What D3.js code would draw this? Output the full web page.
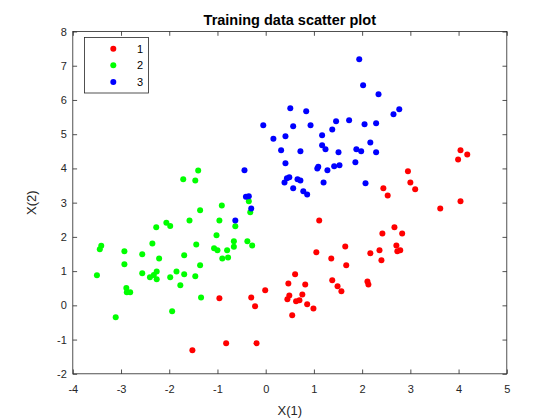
<!DOCTYPE html>
<html>
<head>
<meta charset="utf-8">
<script src="https://cdn.jsdelivr.net/npm/d3@7"></script>
<style>
  body { margin: 0; background: #fff; }
  svg { font-family: "Liberation Sans", Arial, sans-serif; }
</style>
</head>
<body>
<svg id="chart" width="560" height="420"></svg>
<script>
// class 1 (red)
const x1 = [-0.96,-1.52,-0.82,-0.19,-0.30,-0.22,-0.01,1.11,1.05,0.61,0.47,0.82,0.49,0.45,0.76,0.63,0.70,0.86,0.99,0.55,
  1.36,1.65,1.67,1.38,1.49,1.57,2.11,2.13,2.17,2.36,2.40,2.42,2.67,2.83,2.71,2.73,2.79,3.62,4.04,2.95,3.00,3.10,2.44,2.53,4.04,4.18,3.99];
const y1 = [0.21,-1.31,-1.11,-1.11,0.23,-0.03,0.44,2.48,1.55,0.91,0.64,0.61,0.29,0.18,0.32,0.12,0.15,0.03,-0.09,-0.29,
  1.37,1.72,1.17,0.73,0.56,0.41,0.70,0.61,1.52,1.61,1.32,2.10,2.28,2.10,1.75,1.58,1.61,2.83,3.04,3.92,3.59,3.39,3.42,3.21,4.53,4.41,4.26];
// class 2 (green)
const x2 = [-3.50,-3.44,-3.41,-3.11,-2.93,-2.93,-2.89,-2.88,-2.81,-2.56,-2.56,-2.35,-2.40,-2.32,-2.26,-2.26,-2.27,-2.21,-2.06,-1.98,
  -1.98,-1.94,-1.85,-1.77,-1.71,-1.69,-1.69,-1.58,-1.46,-1.40,-1.44,-1.46,-1.36,-1.36,-1.34,-1.07,-1.02,-1.00,-0.96,-0.91,
  -0.90,-0.80,-0.78,-0.66,-0.66,-0.63,-0.38,-0.28,-0.35,-0.32];
const y2 = [0.88,1.64,1.74,-0.35,1.58,1.20,0.51,0.38,0.38,1.49,0.94,1.81,0.82,0.89,0.99,0.76,2.28,1.37,2.41,2.32,
  0.82,-0.17,0.99,0.59,3.68,1.46,0.91,2.48,3.65,3.94,1.78,0.85,1.17,2.78,0.23,1.67,2.05,1.61,2.48,2.92,
  1.37,1.61,1.40,1.87,1.71,2.31,1.87,1.75,3.04,2.72];
// class 3 (blue)
const x3 = [1.94,2.02,2.34,0.51,0.84,-0.05,0.57,0.93,0.16,0.41,0.32,0.72,0.41,-0.44,1.17,1.38,1.46,1.73,2.05,2.29,
  2.65,2.77,2.17,1.17,1.24,1.51,1.88,1.98,2.29,1.86,1.42,1.53,1.07,1.09,1.28,1.20,2.07,0.39,0.44,0.49,
  0.66,0.72,0.57,0.78,0.86,-0.41,-0.35,-0.30,-0.63];
const y3 = [7.19,6.43,6.17,5.76,5.67,5.26,5.23,5.26,4.87,4.94,4.53,4.50,4.15,3.95,4.97,5.14,5.38,5.41,5.29,5.32,
  5.58,5.73,4.76,4.68,4.56,4.47,4.56,4.50,4.47,4.18,4.06,4.09,4.00,4.05,3.95,3.59,3.57,3.59,3.71,3.74,
  3.68,3.65,3.42,3.33,3.24,3.17,3.19,2.83,2.48];

const classNames = ["1", "2", "3"];
const classColors = ["#ff0000", "#00ff00", "#0000ff"];
const xTicks = [-4, -3, -2, -1, 0, 1, 2, 3, 4, 5];
const yTicks = [-2, -1, 0, 1, 2, 3, 4, 5, 6, 7, 8];

const padL = 72.8, padR = 506.8, padT = 31.5, padB = 373.8;
const ink = "#262626";

const svg = d3.select("#chart");
const x = d3.scaleLinear().domain([-4, 5]).range([padL, padR]);
const y = d3.scaleLinear().domain([-2, 8]).range([padB, padT]);
const plain = d => String(d); // hyphen minus, like the original

// axes with ticks pointing inward, mirrored on the opposite side
function styleAxis(g, hideText) {
    g.select(".domain").remove();
    g.selectAll(".tick line").attr("stroke", ink).attr("stroke-width", 0.8);
    g.selectAll(".tick text").attr("fill", ink).style("font-size", "11px");
    if (hideText) g.selectAll(".tick text").remove();
}
svg.append("g").attr("transform", `translate(0,${padB})`)
    .call(d3.axisBottom(x).tickValues(xTicks).tickSizeInner(-4.3).tickPadding(11).tickFormat(plain))
    .call(g => styleAxis(g, false));
svg.append("g").attr("transform", `translate(0,${padT})`)
    .call(d3.axisTop(x).tickValues(xTicks).tickSizeInner(-4.3))
    .call(g => styleAxis(g, true));
svg.append("g").attr("transform", `translate(${padL},0)`)
    .call(d3.axisLeft(y).tickValues(yTicks).tickSizeInner(-4.3).tickPadding(6).tickFormat(plain))
    .call(g => styleAxis(g, false));
svg.append("g").attr("transform", `translate(${padR},0)`)
    .call(d3.axisRight(y).tickValues(yTicks).tickSizeInner(-4.3))
    .call(g => styleAxis(g, true));

svg.append("rect")
    .attr("x", padL).attr("y", padT)
    .attr("width", padR - padL).attr("height", padB - padT)
    .attr("fill", "none").attr("stroke", ink).attr("stroke-width", 0.8);

// points
const series = [[x1, y1], [x2, y2], [x3, y3]];
series.forEach((s, i) => {
    svg.append("g").selectAll("circle")
        .data(d3.range(s[0].length))
        .enter().append("circle")
        .attr("cx", k => x(s[0][k]))
        .attr("cy", k => y(s[1][k]))
        .attr("r", 3)
        .attr("fill", classColors[i]);
});

// title and labels
svg.append("text")
    .attr("x", (padL + padR) / 2).attr("y", 25)
    .attr("text-anchor", "middle")
    .attr("font-weight", "bold").style("font-size", "14.5px")
    .attr("fill", "#000")
    .text("Training data scatter plot");
svg.append("text")
    .attr("x", (padL + padR) / 2).attr("y", 415)
    .attr("text-anchor", "middle").style("font-size", "13px")
    .attr("fill", ink)
    .text("X(1)");
svg.append("text")
    .attr("transform", `translate(36,${(padT + padB) / 2}) rotate(-90)`)
    .attr("text-anchor", "middle").style("font-size", "13px")
    .attr("fill", ink)
    .text("X(2)");

// legend
const legend = svg.append("g");
legend.append("rect")
    .attr("x", 84.5).attr("y", 37.5).attr("width", 64).attr("height", 55.5)
    .attr("fill", "#fff").attr("stroke", ink).attr("stroke-width", 0.8);
classNames.forEach((name, i) => {
    const cy = 48.7 + i * 16.6;
    legend.append("circle").attr("cx", 113.3).attr("cy", cy).attr("r", 3).attr("fill", classColors[i]);
    legend.append("text").attr("x", 137).attr("y", cy + 4)
        .style("font-size", "11px").attr("fill", "#000").text(name);
});
</script>
</body>
</html>
